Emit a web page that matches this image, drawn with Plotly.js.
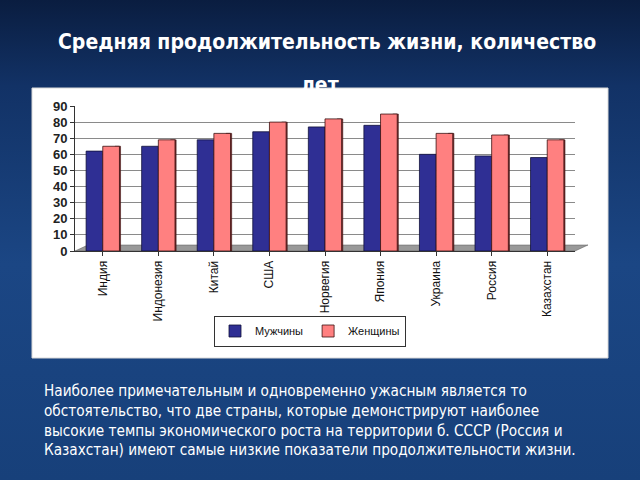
<!DOCTYPE html>
<html><head><meta charset="utf-8">
<script src="https://cdn.plot.ly/plotly-3.0.1.min.js"></script>
<style>
html,body{margin:0;padding:0;width:640px;height:480px;overflow:hidden;
background:linear-gradient(180deg,#0a1d40 0%,#123266 18%,#1b4684 55%,#17407a 100%);}
#chart{width:640px;height:480px;}
</style></head><body>
<div id="chart"></div>
<script>
const countries = ["Индия","Индонезия","Китай","США","Норвегия","Япония","Украина","Россия","Казахстан"];
const men =   [62, 65, 69, 74, 77, 78, 60, 59, 58];
const women = [65, 69, 73, 80, 82, 85, 73, 72, 69];
const seriesNames = ["Мужчины", "Женщины"];
const yTicks = [0,10,20,30,40,50,60,70,80,90];
const titleLine1 = "Средняя продолжительность жизни, количество";
const titleLine2 = "лет";
const bodyText = ["Наиболее примечательным и одновременно ужасным является то",
  "обстоятельство, что две страны, которые демонстрируют наиболее",
  "высокие темпы экономического роста на территории б. СССР (Россия и",
  "Казахстан) имеют самые низкие показатели продолжительности жизни."];

// plot box in pixels (for positioning decorations in paper units)
const L = 75, R = 575, T = 106, B = 251;
const W = R - L, H = B - T;
const px = x => (x - L) / W;
const py = y => (B - y) / H;

const traces = [
  {type:'bar', x:countries, y:women, name:'', showlegend:false, hoverinfo:'skip',
   offset:0.22, width:0.1, marker:{color:'#7a2e2e', line:{color:'#3a1010', width:0.6}}},
  {type:'bar', x:countries, y:men, name:seriesNames[0], offset:-0.3, width:0.3,
   marker:{color:'#2f2f94', line:{color:'#10103a', width:0.8}}},
  {type:'bar', x:countries, y:women, name:seriesNames[1], offset:0, width:0.3,
   marker:{color:'#ff8080', line:{color:'#3a1010', width:0.8}}}
];

const layout = {
  width:640, height:480,
  paper_bgcolor:'rgba(0,0,0,0)', plot_bgcolor:'rgba(0,0,0,0)',
  margin:{l:L, r:640-R, t:T, b:480-B},
  barmode:'overlay',
  showlegend:true,
  legend:{orientation:'h', x:px(310), xanchor:'center', y:py(331), yanchor:'middle',
    bgcolor:'#ffffff', bordercolor:'#333333', borderwidth:1,
    font:{family:'Liberation Sans, Arial', size:11, color:'#111'},
    itemwidth:30, traceorder:'normal'},
  xaxis:{type:'category', tickangle:-90, showline:true, linecolor:'#333', linewidth:1,
    ticks:'outside', ticklen:4, tickcolor:'#333',
    tickfont:{family:'Liberation Sans, Arial', size:12, color:'#111'},
    showgrid:false, fixedrange:true},
  yaxis:{range:[0,90], tickvals:yTicks, ticks:'outside', ticklen:4, tickcolor:'#333',
    showline:true, linecolor:'#333', linewidth:1,
    gridcolor:'#8a8a8a', gridwidth:1,
    tickfont:{family:'Liberation Sans, Arial', size:13, color:'#222', weight:'bold'},
    zeroline:false, fixedrange:true},
  shapes:[
    {type:'rect', xref:'paper', yref:'paper', layer:'below',
     x0:px(32), x1:px(608), y0:py(358), y1:py(88),
     fillcolor:'#ffffff', line:{color:'#d8d8d8', width:1}},
    {type:'path', xref:'paper', yref:'paper', layer:'below',
     path:`M ${px(75)} ${py(251)} L ${px(575)} ${py(251)} L ${px(588)} ${py(245)} L ${px(88)} ${py(245)} Z`,
     fillcolor:'#999999', line:{color:'#555', width:0.5}}
  ],
  annotations:[
    {xref:'paper', yref:'paper', x:px(327), y:py(42), xanchor:'center', yanchor:'middle',
     text:titleLine1, showarrow:false,
     font:{family:'DejaVu Sans Condensed, DejaVu Sans', size:21, color:'#ffffff', weight:'bold'}},
    {xref:'paper', yref:'paper', x:px(320), y:py(85), xanchor:'center', yanchor:'middle',
     text:titleLine2, showarrow:false,
     font:{family:'DejaVu Sans Condensed, DejaVu Sans', size:21, color:'#ffffff', weight:'bold'}},
    {xref:'paper', yref:'paper', x:px(42), y:py(380), xanchor:'left', yanchor:'top',
     align:'left', text:bodyText.join('<br>'), showarrow:false,
     font:{family:'DejaVu Sans Condensed, DejaVu Sans', size:15.2, color:'#ffffff'}}
  ]
};
Plotly.newPlot('chart', traces, layout, {displayModeBar:false, staticPlot:true});
</script>
</body></html>
